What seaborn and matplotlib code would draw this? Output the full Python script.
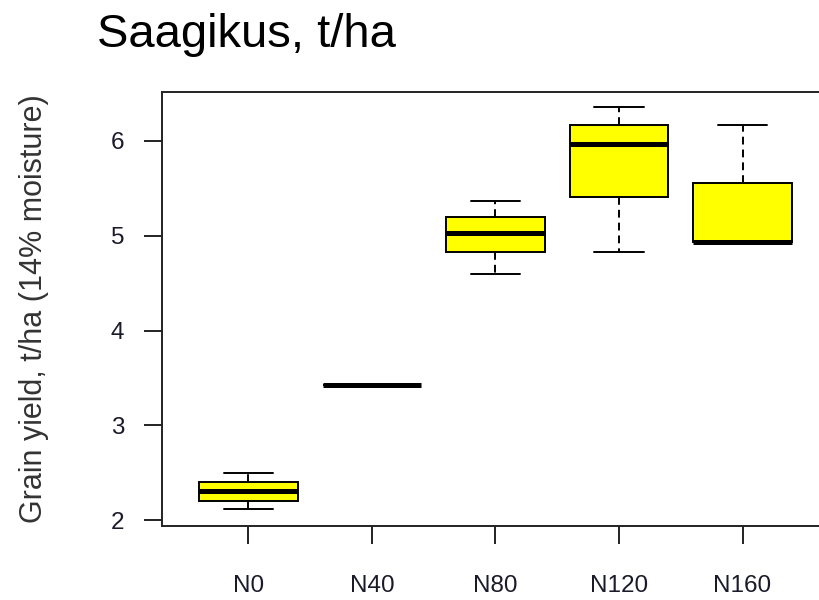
import numpy as np
import pandas as pd
import matplotlib
matplotlib.use("Agg")
import matplotlib.pyplot as plt
import seaborn as sns

# ---- data ----
categories = ["N0", "N40", "N80", "N120", "N160"]
yield_N0 = [2.12, 2.20, 2.31, 2.40, 2.50]
yield_N40 = [3.42, 3.42, 3.42, 3.42, 3.42]
yield_N80 = [4.60, 4.83, 5.03, 5.20, 5.37]
yield_N120 = [4.83, 5.41, 5.97, 6.17, 6.36]
yield_N160 = [4.93, 4.93, 4.93, 5.56, 6.17]
y_ticks = [2, 3, 4, 5, 6]
title_text = "Saagikus, t/ha"
ylabel_text = "Grain yield, t/ha (14% moisture)"

series = [yield_N0, yield_N40, yield_N80, yield_N120, yield_N160]
df = pd.DataFrame({
    "group": np.repeat(categories, [len(s) for s in series]),
    "value": np.concatenate(series),
})

sns.set_style("white")
plt.rcParams["font.family"] = ["Liberation Sans", "DejaVu Sans"]

fig = plt.figure(figsize=(8.2, 6.0), dpi=100)
W, H = 820, 600
left, right, top, bottom = 162, 829, 92, 526
ax = fig.add_axes([left / W, 1 - bottom / H, (right - left) / W, (bottom - top) / H])

sns.boxplot(
    data=df, x="group", y="value", order=categories, ax=ax,
    color="#FFFF00", saturation=1, width=0.8, whis=(0, 100),
    linecolor="black", linewidth=1.4,
    medianprops=dict(color="black", linewidth=3.6, solid_capstyle="butt"),
    whiskerprops=dict(color="black", linewidth=1.4, linestyle=(0, (4, 2.6))),
    capprops=dict(color="black", linewidth=1.4),
    boxprops=dict(edgecolor="black", linewidth=1.4),
    showfliers=False,
)

ax.set_xlim(-0.7, 4.7)
ax.set_ylim(1.937, 6.517)
ax.set_yticks(y_ticks)
ax.set_yticklabels([str(t) for t in y_ticks])
ax.set_xlabel("")
ax.set_ylabel(ylabel_text, fontsize=22, color="#333333")
ax.yaxis.set_label_coords(-0.169, 0.5)

for sp in ax.spines.values():
    sp.set_visible(True)
    sp.set_color("#222222")
    sp.set_linewidth(1.4)

ax.tick_params(axis="x", which="both", bottom=True, top=False, direction="out",
               length=13, width=1.4, color="#222222", pad=22,
               labelsize=17.5, labelcolor="#1a1a2a")
ax.tick_params(axis="y", which="both", left=True, right=False, direction="out",
               length=13, width=1.4, color="#222222", pad=14,
               labelsize=17.5, labelcolor="#1a1a2a")

fig.text(97 / W, 1 - 47 / H, title_text, fontsize=34, color="black",
         ha="left", va="baseline")

fig.savefig("out.png", dpi=100)
